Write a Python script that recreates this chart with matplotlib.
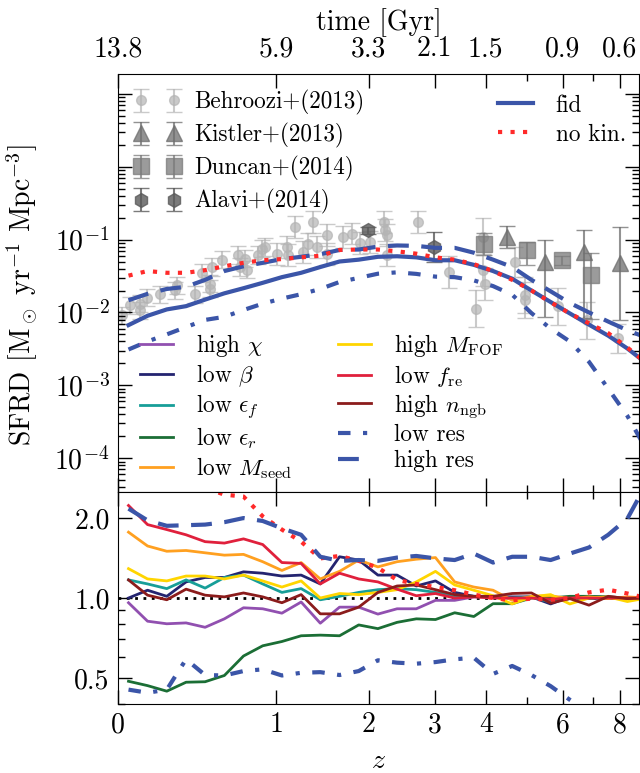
import numpy as np
import matplotlib
matplotlib.use('Agg')
import matplotlib.pyplot as plt
from matplotlib.ticker import FixedLocator, FuncFormatter, LogLocator, NullFormatter

plt.rcParams['font.family'] = 'serif'
plt.rcParams['font.serif'] = ['cmr10', 'DejaVu Serif']
plt.rcParams['mathtext.fontset'] = 'cm'
plt.rcParams['axes.formatter.use_mathtext'] = True
plt.rcParams['font.size'] = 20
plt.rcParams['legend.fontsize'] = 16.7

# snapshot redshifts
z = [0.047, 0.138, 0.238, 0.347, 0.464, 0.593, 0.732, 0.884, 1.049, 1.229,
     1.424, 1.637, 1.868, 2.119, 2.392, 2.690, 3.013, 3.365, 3.747, 4.163,
     4.615, 5.108, 5.643, 6.225, 6.858, 7.547, 8.296, 9.11]

# SFRD [Msun/yr/Mpc^3]
fid = [0.0067, 0.0090, 0.0110, 0.0122, 0.0150, 0.0183, 0.0215, 0.0255, 0.0305, 0.0350,
       0.0420, 0.0500, 0.0530, 0.0580, 0.0590, 0.0570, 0.0520, 0.0520, 0.0450, 0.0370,
       0.0290, 0.0200, 0.0139, 0.0097, 0.0068, 0.0048, 0.0032, 0.0020]
nokin = [0.032, 0.037, 0.035, 0.035, 0.038, 0.043, 0.048, 0.052, 0.054, 0.057,
         0.060, 0.072, 0.073, 0.073, 0.069, 0.064, 0.057, 0.053, 0.046, 0.037,
         0.028, 0.020, 0.0138, 0.0097, 0.0071, 0.0052, 0.0033, 0.0020]
hires = [0.0147, 0.018, 0.021, 0.0225, 0.028, 0.037, 0.043, 0.048, 0.054, 0.058,
         0.063, 0.072, 0.073, 0.080, 0.083, 0.082, 0.077, 0.077, 0.066, 0.053,
         0.042, 0.028, 0.0195, 0.0135, 0.0100, 0.0075, 0.0057, 0.0045]
lores = [0.0031, 0.0040, 0.0050, 0.0063, 0.0079, 0.0087, 0.0108, 0.0132, 0.0155, 0.0178,
         0.021, 0.0262, 0.0298, 0.034, 0.0355, 0.0338, 0.031, 0.0305, 0.0275, 0.023,
         0.0175, 0.0098, 0.0060, 0.0040, 0.0021, 0.0009, 0.00038, 0.00013]

# ratios to fid
r_high_chi = [0.96, 0.818, 0.80, 0.806, 0.776, 0.835, 0.919, 0.911, 0.877, 0.966,
              0.804, 0.924, 0.924, 0.87, 0.911, 0.911, 0.98, 0.98, 1.01, 1.01,
              0.995, 1.01, 0.98, 1.0, 1.01, 1.01, 1.0, 1.0]
r_low_beta = [1.0, 1.07, 1.015, 1.15, 1.195, 1.195, 1.255, 1.24, 1.21, 1.22,
              1.13, 1.43, 1.39, 1.22, 1.22, 1.11, 1.16, 1.05, 1.015, 1.01,
              1.01, 1.01, 0.95, 1.01, 0.995, 1.0, 0.995, 1.0]
r_low_ef = [1.17, 1.13, 1.085, 1.17, 1.09, 1.195, 1.22, 1.13, 1.05, 1.085,
            0.985, 1.015, 1.05, 1.075, 1.085, 1.075, 1.05, 1.02, 1.015, 1.015,
            1.0, 1.01, 0.965, 0.995, 1.0, 1.0, 0.995, 1.0]
r_low_er = [0.486, 0.468, 0.446, 0.482, 0.484, 0.511, 0.605, 0.661, 0.686, 0.721,
            0.725, 0.721, 0.792, 0.767, 0.81, 0.835, 0.83, 0.88, 0.852, 0.952,
            0.952, 1.0, 1.0, 1.015, 1.015, 1.01, 1.0, 1.0]
r_low_mseed = [1.77, 1.57, 1.50, 1.51, 1.48, 1.45, 1.46, 1.37, 1.27, 1.36,
               1.18, 1.26, 1.39, 1.31, 1.37, 1.40, 1.42, 1.15, 1.10, 1.07,
               0.98, 1.015, 1.02, 0.995, 1.01, 0.995, 1.01, 1.0]
r_high_mfof = [1.29, 1.18, 1.16, 1.21, 1.21, 1.18, 1.22, 1.16, 1.10, 1.16,
               1.0, 1.04, 1.03, 1.05, 1.075, 1.15, 1.26, 1.12, 1.07, 1.02,
               0.95, 1.01, 1.03, 0.95, 1.0, 1.01, 0.97, 1.0]
r_low_fre = [2.23, 1.89, 1.81, 1.73, 1.63, 1.61, 1.67, 1.59, 1.36, 1.35,
             1.13, 1.24, 1.18, 1.15, 1.08, 1.02, 1.04, 1.0, 1.01, 1.0,
             1.0, 1.0, 0.99, 1.0, 1.0, 1.0, 1.0, 1.0]
r_high_nngb = [1.17, 1.025, 0.985, 1.08, 1.025, 1.01, 1.045, 1.01, 0.96, 1.03,
               0.872, 0.872, 0.924, 1.05, 1.11, 1.12, 1.075, 1.03, 1.015, 1.015,
               1.04, 1.045, 0.957, 0.995, 0.94, 1.015, 0.995, 1.0]
r_nokin = [4.4, 3.8, 3.2, 2.9, 2.6, 2.45, 2.41, 2.03, 1.81, 1.63,
           1.41, 1.44, 1.38, 1.30, 1.17, 1.13, 1.10, 1.07, 1.03, 1.0,
           0.98, 0.995, 0.985, 1.0, 1.05, 1.075, 1.04, 1.0]
r_hires = [2.17, 1.96, 1.87, 1.88, 1.89, 1.93, 2.0, 1.95, 1.83, 1.73,
           1.43, 1.38, 1.39, 1.38, 1.42, 1.44, 1.41, 1.39, 1.47, 1.36,
           1.43, 1.43, 1.39, 1.47, 1.55, 1.73, 1.99, 2.7]
r_lores = [0.452, 0.44, 0.452, 0.588, 0.513, 0.511, 0.531, 0.539, 0.511, 0.523,
           0.526, 0.513, 0.531, 0.583, 0.571, 0.566, 0.574, 0.588, 0.596, 0.518,
           0.555, 0.513, 0.466, 0.414, 0.37, 0.30, 0.22, 0.15]

# observations
beh_z = [0.017, 0.054, 0.101, 0.101, 0.134, 0.202, 0.283, 0.293, 0.401, 0.443,
         0.497, 0.497, 0.507, 0.575, 0.694, 0.706, 0.744, 0.757, 0.848, 0.876,
         0.903, 1.003, 1.094, 1.109, 1.17, 1.25, 1.30, 1.35, 1.387, 1.494,
         1.494, 1.68, 1.78, 1.884, 2.01, 2.2, 2.22, 2.24, 2.24, 2.72,
         3.25, 3.8, 3.95, 3.98, 3.95, 4.69, 4.95, 4.95, 5.87, 6.78, 7.94]
beh_sfrd = [0.0091, 0.0125, 0.0132, 0.0107, 0.016, 0.0177, 0.0201, 0.0236, 0.0177, 0.0348,
            0.0249, 0.0212, 0.042, 0.053, 0.061, 0.042, 0.0548, 0.0387, 0.061, 0.0752,
            0.079, 0.0628, 0.079, 0.061, 0.149, 0.0676, 0.088, 0.175, 0.079, 0.114,
            0.064, 0.108, 0.121, 0.09, 0.093, 0.175, 0.134, 0.114, 0.0609, 0.175,
            0.0359, 0.0113, 0.0379, 0.0249, 0.11, 0.0492, 0.0172, 0.0147, 0.0121, 0.0078, 0.0044]
beh_err = [0.12, 0.12, 0.12, 0.12, 0.12, 0.12, 0.12, 0.12, 0.12, 0.12,
           0.12, 0.12, 0.12, 0.12, 0.12, 0.12, 0.12, 0.12, 0.12, 0.12,
           0.12, 0.15, 0.15, 0.15, 0.15, 0.15, 0.15, 0.15, 0.15, 0.15,
           0.15, 0.15, 0.15, 0.15, 0.15, 0.15, 0.15, 0.15, 0.15, 0.15,
           0.22, 0.25, 0.22, 0.22, 0.25, 0.2, 0.25, 0.25, 0.25, 0.25, 0.2]
kis_z = [4.48, 5.47, 6.7, 8.0]
kis_sfrd = [0.109, 0.049, 0.0676, 0.047]
kis_lo = [0.15, 0.75, 0.9, 0.78]
kis_hi = [0.15, 0.3, 0.3, 0.5]
dun_z = [3.97, 4.99, 5.97, 6.94]
dun_sfrd = [0.088, 0.071, 0.052, 0.0323]
dun_lo = [0.15, 0.2, 0.06, 0.6]
dun_hi = [0.15, 0.12, 0.06, 0.3]
ala_z = [1.99, 2.98]
ala_sfrd = [0.134, 0.079]
ala_err = [0.05, 0.2]

z_ticks = [0, 1, 2, 3, 4, 6, 8]
z_labels = ['0', '1', '2', '3', '4', '6', '8']
t_labels = ['13.8', '5.9', '3.3', '2.1', '1.5', '0.9', '0.6']


def fwd(x):
    return np.log1p(np.clip(x, -0.99, None))


def inv(x):
    return np.expm1(x)


def dex_err(v, lo, hi):
    v = np.asarray(v)
    return [v - v / 10**np.asarray(lo), v * 10**np.asarray(hi) - v]


fig = plt.figure(figsize=(6.4, 7.73), dpi=100)
ax1 = fig.add_axes([0.1844, 0.3631, 0.814, 0.5418])
ax2 = fig.add_axes([0.1844, 0.0896, 0.814, 0.2735])

blue = '#3b55a8'
red = '#ff2a2a'

# observations
eb_b = ax1.errorbar(beh_z, beh_sfrd, yerr=dex_err(beh_sfrd, beh_err, beh_err), fmt='o',
                    color='#b4b4b4', ms=7, capsize=6, elinewidth=1.5, alpha=0.7, zorder=1)
eb_k = ax1.errorbar(kis_z, kis_sfrd, yerr=dex_err(kis_sfrd, kis_lo, kis_hi), fmt='^',
                    color='#6e6e6e', ms=11, capsize=6, elinewidth=1.5, alpha=0.75, zorder=2)
eb_d = ax1.errorbar(dun_z, dun_sfrd, yerr=dex_err(dun_sfrd, dun_lo, dun_hi), fmt='s',
                    color='#7a7a7a', ms=12, capsize=6, elinewidth=1.5, alpha=0.75, zorder=2)
eb_a = ax1.errorbar(ala_z, ala_sfrd, yerr=dex_err(ala_sfrd, ala_err, ala_err), fmt='h',
                    color='#5a5a5a', ms=10, capsize=6, elinewidth=1.5, alpha=0.8, zorder=2)

# simulations, top panel
l_fid, = ax1.plot(z, fid, color=blue, lw=3, zorder=5)
l_nokin, = ax1.plot(z, nokin, color=red, lw=3, ls=(0, (1, 2)), zorder=6)
ax1.plot(z, hires, color=blue, lw=3, ls=(0, (5, 3)), zorder=4)
ax1.plot(z, lores, color=blue, lw=3, ls=(0, (3, 3, 1, 3)), zorder=4)

# ratios, bottom panel
variants = [
    (r_high_chi, '#9150b0', r'high $\chi$'),
    (r_low_beta, '#242470', r'low $\beta$'),
    (r_low_ef, '#179e98', r'low $\epsilon_f$'),
    (r_low_er, '#1b6e35', r'low $\epsilon_r$'),
    (r_low_mseed, '#ffa020', r'low $M_{\rm seed}$'),
    (r_high_mfof, '#ffd500', r'high $M_{\rm FOF}$'),
    (r_low_fre, '#e0203c', r'low $f_{\rm re}$'),
    (r_high_nngb, '#8b1c1c', r'high $n_{\rm ngb}$'),
]
handles = []
labels = []
for r, c, lab in variants:
    h, = ax2.plot(z, r, color=c, lw=2)
    handles.append(h)
    labels.append(lab)
ax2.plot(z, r_nokin, color=red, lw=3, ls=(0, (1, 2)))
h_lo, = ax2.plot(z, r_lores, color=blue, lw=3, ls=(0, (3, 3, 1, 3)))
h_hi, = ax2.plot(z, r_hires, color=blue, lw=3, ls=(0, (5, 3)))
ax2.axhline(1.0, color='k', lw=2, ls=(0, (1, 2)), zorder=1)
handles += [h_lo, h_hi]
labels += ['low res', 'high res']

# axes
for ax in (ax1, ax2):
    ax.set_xscale('function', functions=(fwd, inv))
    ax.set_xlim(0, 8.78)
    ax.set_xticks(z_ticks)
    ax.xaxis.set_minor_locator(FixedLocator([5, 7]))
    ax.tick_params(which='both', direction='in', top=True, right=True, width=1)
    ax.tick_params(which='major', length=10)
    ax.tick_params(which='minor', length=5)
    ax.tick_params(axis='y', pad=6)

ax1.set_yscale('log')
ax1.set_ylim(3.4e-5, 19)
ax1.yaxis.set_major_locator(LogLocator(base=10, numticks=20))
ax1.yaxis.set_major_formatter(FuncFormatter(
    lambda v, p: r'$10^{%d}$' % round(np.log10(v)) if v < 0.5 else ''))
ax1.yaxis.set_minor_locator(LogLocator(base=10, subs=np.arange(2, 10), numticks=20))
ax1.yaxis.set_minor_formatter(NullFormatter())
ax1.set_xticklabels(t_labels)
ax1.tick_params(axis='x', which='both', labeltop=True, labelbottom=False, pad=8)
ax1.xaxis.set_label_position('top')
ax1.set_xlabel('time [Gyr]', labelpad=4)
ax1.set_ylabel(r'SFRD [M$_\odot$ yr$^{-1}$ Mpc$^{-3}$]')
ax1.yaxis.set_label_coords(-0.15, 0.47)

ax2.set_yscale('log')
ax2.set_ylim(0.4, 2.5)
ax2.yaxis.set_major_locator(FixedLocator([0.5, 1.0, 2.0]))
ax2.yaxis.set_major_formatter(FuncFormatter(lambda v, p: '%.1f' % v))
ax2.yaxis.set_minor_locator(FixedLocator([0.4, 0.6, 0.7, 0.8, 0.9]))
ax2.yaxis.set_minor_formatter(NullFormatter())
ax2.set_xticklabels(z_labels)
ax2.tick_params(axis='x', pad=6)
ax2.set_xlabel(r'$z$', labelpad=7)

# legends
leg1 = ax1.legend([eb_b, eb_k, eb_d, eb_a],
                  ['Behroozi+(2013)', 'Kistler+(2013)', 'Duncan+(2014)', 'Alavi+(2014)'],
                  loc='upper left', numpoints=2, frameon=False, handlelength=2.0,
                  handletextpad=0.6, labelspacing=0.35, borderaxespad=0.3)
ax1.add_artist(leg1)
leg2 = ax1.legend([l_fid, l_nokin], ['fid', 'no kin.'], loc='upper right', frameon=False,
                  handlelength=1.5, handletextpad=1.0, labelspacing=0.3,
                  bbox_to_anchor=(1.015, 1.0))
ax1.add_artist(leg2)
ax1.legend(handles, labels, loc='lower left', ncol=2, frameon=False, handlelength=1.4,
           handletextpad=1.0, labelspacing=0.15, columnspacing=2.0, borderaxespad=0.1,
           bbox_to_anchor=(0.02, 0.0))

fig.savefig('out.png', dpi=100)
